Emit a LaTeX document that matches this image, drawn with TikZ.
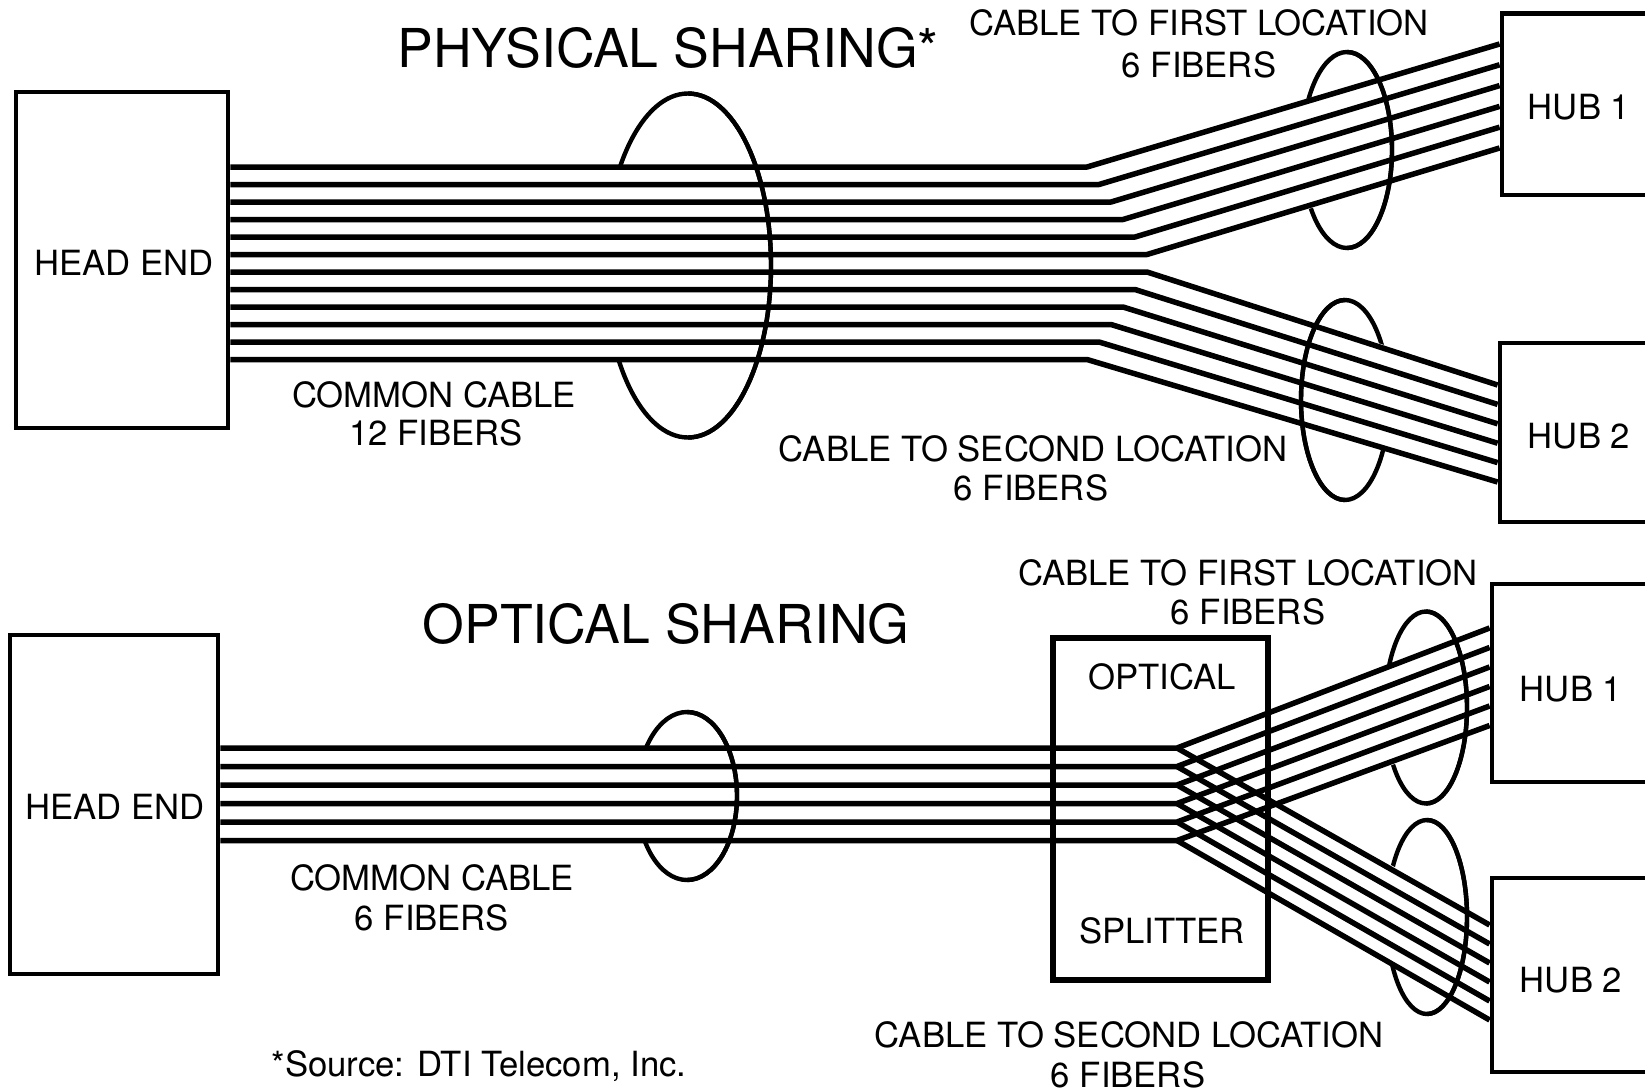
\documentclass[tikz,border=0pt]{standalone}
\usepackage{fontspec}
\setmainfont{TeX Gyre Heros}
\newcommand\lblfont{\fontsize{17.35}{20}\selectfont}
\newcommand\ttlfont{\fontsize{26.8}{30}\selectfont}
\begin{document}
\begin{tikzpicture}[x=0.5pt,y=-0.5pt,
  fiber/.style={line width=2.75pt, line join=round},
  band/.style={fill=white, draw=white, line width=2.75pt, line join=round},
  boxnode/.style={draw, line width=2.4pt, inner sep=0pt},
  ring/.style={line width=2.2pt},
  lbl/.style={inner sep=0pt, font=\lblfont},
  ttl/.style={inner sep=0pt, font=\ttlfont}]
\useasboundingbox (0,0) rectangle (1645,1092);
\fill[white] (0,0) rectangle (1645,1092);

% ---------- boxes ----------
\node[boxnode, minimum width=106pt, minimum height=168pt] (he1) at (122,260) {};
\node[boxnode, minimum width=80pt, minimum height=90.75pt] (hubA) at (1582,104.25) {};
\node[boxnode, minimum width=80pt, minimum height=89.5pt] (hubB) at (1580,432.5) {};
\node[boxnode, minimum width=104pt, minimum height=169.5pt] (he2) at (114,804.5) {};
\node[boxnode, line width=3pt, minimum width=107.5pt, minimum height=171pt] (spl) at (1160.5,809) {};
\node[boxnode, minimum width=80pt, minimum height=99pt] (hubC) at (1572,683) {};
\node[boxnode, minimum width=80pt, minimum height=97pt] (hubD) at (1572,975) {};

% ---------- ellipse centres ----------
\coordinate (c1) at (688,265.5);
\coordinate (c2) at (1347,150);
\coordinate (c3) at (1345,400);
\coordinate (c4) at (687,796);
\coordinate (c5) at (1426,707.5);
\coordinate (c6) at (1427,917);

% full rings
\draw[ring] (c1) ellipse [x radius=83, y radius=172];
\draw[ring] (c2) ellipse [x radius=45, y radius=98];
\draw[ring] (c3) ellipse [x radius=44, y radius=100];
\draw[ring] (c4) ellipse [x radius=50, y radius=84];
\draw[ring] (c5) ellipse [x radius=41, y radius=96];
\draw[ring] (c6) ellipse [x radius=40, y radius=97];

% hide the back halves behind the cables
\fill[white] (598,164.5) rectangle (688,362);
\begin{scope}
  \clip (1295,40) rectangle (1347,260);
  \filldraw[band] (1087,167) -- (1502,44) -- (1502,148) -- (1147,254.5) -- cycle;
\end{scope}
\begin{scope}
  \clip (1345,290) rectangle (1395,510);
  \filldraw[band] (1147,272) -- (1500,385) -- (1500,482) -- (1087,359.5) -- cycle;
\end{scope}
\fill[white] (630,745.5) rectangle (687,843);
\begin{scope}
  \clip (1380,600) rectangle (1426,815);
  \filldraw[band] (1177,748) -- (1492,628) -- (1492,725.5) -- (1177,840.5) -- cycle;
\end{scope}
\begin{scope}
  \clip (1380,815) rectangle (1427,1020);
  \filldraw[band] (1177,748) -- (1492,925) -- (1492,1020) -- (1177,840.5) -- cycle;
\end{scope}

% ---------- physical sharing fibres ----------
\foreach \i in {0,...,5}{
  \pgfmathsetmacro\yy{167+17.5*\i}
  \pgfmathsetmacro\bx{1087+12*\i}
  \pgfmathsetmacro\ee{44+20.8*\i}
  \coordinate (pb\i) at (\bx,\yy);
  \draw[fiber] (he1.east |- pb\i) -- (pb\i) -- (hubA.west |- 0,\ee);
}
\foreach \i in {6,...,11}{
  \pgfmathsetmacro\yy{167+17.5*\i}
  \pgfmathsetmacro\bx{1147-12*(\i-6)}
  \pgfmathsetmacro\ee{385+19.4*(\i-6)}
  \coordinate (pb\i) at (\bx,\yy);
  \draw[fiber] (he1.east |- pb\i) -- (pb\i) -- (hubB.west |- 0,\ee);
}

% ---------- optical sharing fibres ----------
\foreach \i in {0,...,5}{
  \pgfmathsetmacro\yy{748+18.5*\i}
  \pgfmathsetmacro\uu{628+19.5*\i}
  \pgfmathsetmacro\dd{925+19*\i}
  \coordinate (s\i) at (1177,\yy);
  \draw[fiber] (he2.east |- s\i) -- (s\i) -- (hubC.west |- 0,\uu);
  \draw[fiber] (s\i) -- (hubD.west |- 0,\dd);
}

% front halves of the rings
\draw[ring] (c1) ++(0,-172) arc[start angle=-90, end angle=90, x radius=83, y radius=172];
\draw[ring] (c2) ++(0,-98) arc[start angle=-90, end angle=90, x radius=45, y radius=98];
\draw[ring] (c3) ++(0,100) arc[start angle=90, end angle=270, x radius=44, y radius=100];
\draw[ring] (c4) ++(0,-84) arc[start angle=-90, end angle=90, x radius=50, y radius=84];
\draw[ring] (c5) ++(0,-96) arc[start angle=-90, end angle=90, x radius=41, y radius=96];
\draw[ring] (c6) ++(0,-97) arc[start angle=-90, end angle=90, x radius=40, y radius=97];

% ---------- texts ----------
\node[lbl] (he1t) at (124,263) {HEAD END};
\node[lbl] (he2t) at (115,807) {HEAD END};
\node[lbl] (hubAt) at (1579,107) {HUB 1};
\node[lbl] (hubBt) at (1579,436) {HUB 2};
\node[lbl] (hubCt) at (1571,689) {HUB 1};
\node[lbl] (hubDt) at (1571,980) {HUB 2};

\node[ttl] (t1) at (668,48) {PHYSICAL SHARING*};
\node[lbl] (l1a) at (1199,23) {CABLE TO FIRST LOCATION};
\node[lbl] (l1b) at (1199,65) {6 FIBERS};
\node[lbl] (l2a) at (434,395) {COMMON CABLE};
\node[lbl] (l2b) at (436,433) {12 FIBERS};
\node[lbl] (l3a) at (1033,449) {CABLE TO SECOND LOCATION};
\node[lbl] (l3b) at (1031,488) {6 FIBERS};

\node[ttl] (t2) at (666,624) {OPTICAL SHARING};
\node[lbl] (l4a) at (1248,573) {CABLE TO FIRST LOCATION};
\node[lbl] (l4b) at (1248,612) {6 FIBERS};
\node[lbl] (sp1) at (1162,677) {OPTICAL};
\node[lbl] (sp2) at (1162,931) {SPLITTER};
\node[lbl] (l5a) at (432,878) {COMMON CABLE};
\node[lbl] (l5b) at (432,918) {6 FIBERS};
\node[lbl] (l6a) at (1129,1035) {CABLE TO SECOND LOCATION};
\node[lbl] (l6b) at (1128,1075) {6 FIBERS};
\node[lbl, anchor=base] (src) at (479,1076) {*Source: DTI Telecom, Inc.};
\end{tikzpicture}
\end{document}
